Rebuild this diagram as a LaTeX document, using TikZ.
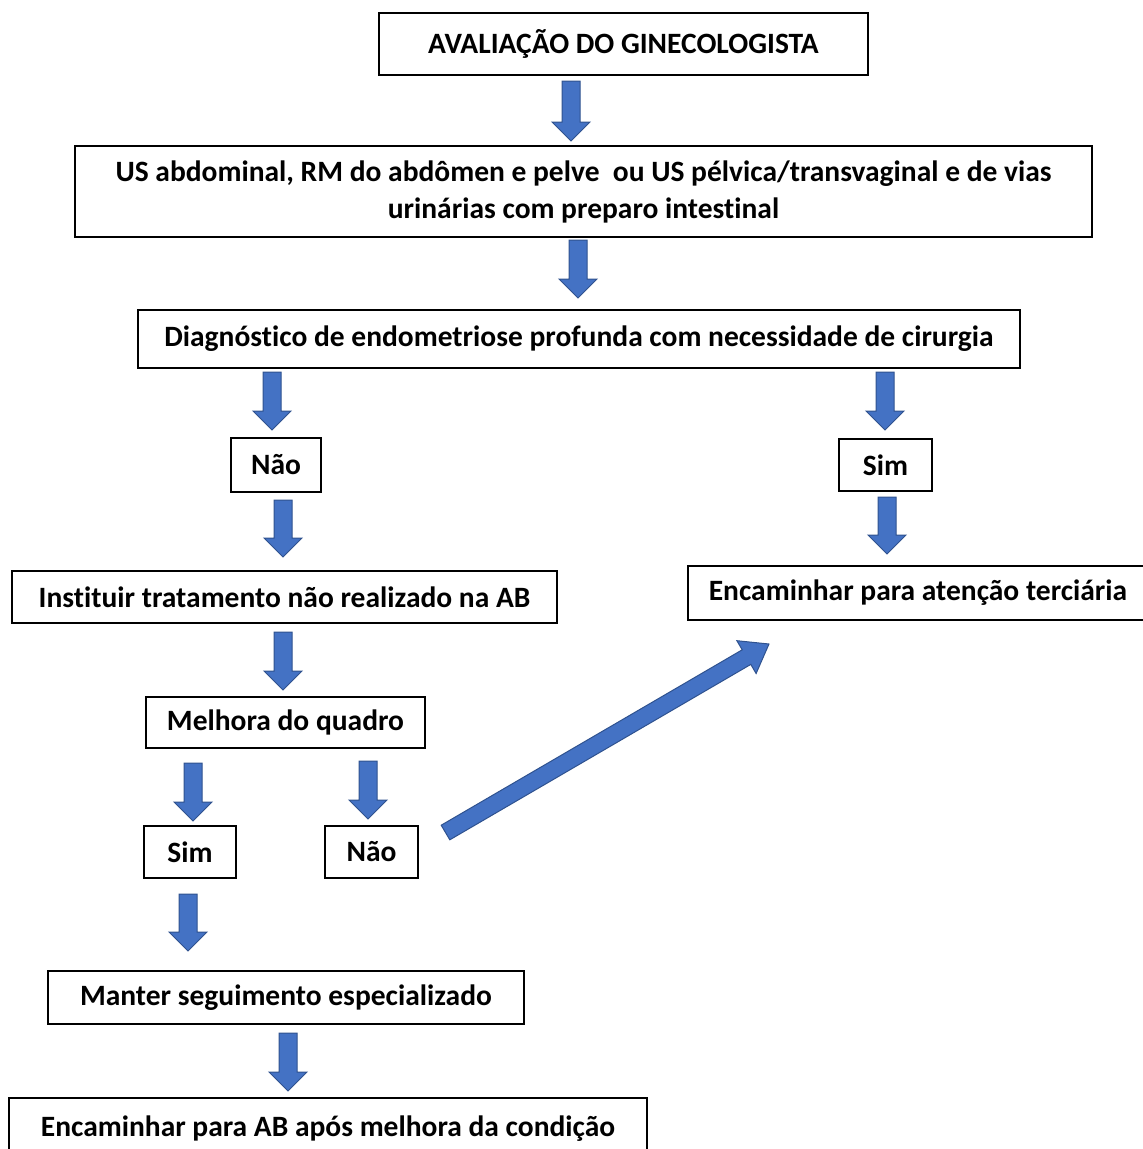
\documentclass[tikz,border=0pt]{standalone}
\usepackage{fontspec}
\setmainfont[Ligatures={NoCommon}]{Carlito}
\definecolor{arrfill}{HTML}{4472C4}
\definecolor{arredge}{HTML}{2F528F}
\newcommand\blkdown[2]{\draw[arr] (#1) ++(-9,0) -- ++(0,#2) -- ++(-10,0) -- ++(19,19) -- ++(19,-19) -- ++(-10,0) -- ++(0,-#2) -- cycle;}
\begin{document}
\begin{tikzpicture}[x=1pt,y=-1pt,
  box/.style={draw=black, line width=1.5pt, inner sep=0pt, font=\fontsize{29.5}{37}\selectfont\bfseries, align=center},
  arr/.style={fill=arrfill, draw=arredge, line width=1pt, line join=miter}]
\useasboundingbox (0,0) rectangle (1143,1149);
\clip (0,0) rectangle (1143,1149);
\node[box, minimum width=489pt, minimum height=62pt] (b1) at (623.5,44) {AVALIAÇÃO DO GINECOLOGISTA};
\node[box, minimum width=1017pt, minimum height=91pt] (b2) at (583.5,191.5) {US abdominal, RM do abdômen e pelve\ \ ou US pélvica/transvaginal e de vias\\urinárias com preparo intestinal};
\node[box, minimum width=882pt, minimum height=58pt] (b3) at (579,339) {Diagnóstico de endometriose profunda com necessidade de cirurgia};
\node[box, minimum width=90pt, minimum height=54pt] (b4) at (276,465) {Não};
\node[box, minimum width=93pt, minimum height=52pt] (b5) at (885.5,465) {Sim};
\node[box, minimum width=545pt, minimum height=52pt] (b6) at (284.5,597) {Instituir tratamento não realizado na AB};
\node[box, minimum width=460pt, minimum height=54pt] (b7) at (918,593) {Encaminhar para atenção terciária};
\node[box, minimum width=279pt, minimum height=51pt] (b8) at (285.5,722.5) {Melhora do quadro};
\node[box, minimum width=92pt, minimum height=52pt] (b9) at (190,852) {Sim};
\node[box, minimum width=93pt, minimum height=52pt] (b10) at (371.5,852) {Não};
\node[box, minimum width=476pt, minimum height=53pt] (b11) at (286,997.5) {Manter seguimento especializado};
\node[box, minimum width=638pt, minimum height=62pt] (b12) at (328,1129) {Encaminhar para AB após melhora da condição};
% arrow anchors
\coordinate (a1) at (571,81);
\coordinate (a2) at (578,240);
\coordinate (a3) at (272,372);
\coordinate (a4) at (885,372);
\coordinate (a5) at (283,500);
\coordinate (a6) at (887,497);
\coordinate (a7) at (283,632);
\coordinate (a8) at (193,763);
\coordinate (a9) at (368,761);
\coordinate (a10) at (188,894);
\coordinate (a11) at (288,1033);
\blkdown{a1}{41}
\blkdown{a2}{39}
\blkdown{a3}{39}
\blkdown{a4}{39}
\blkdown{a5}{38}
\blkdown{a6}{38}
\blkdown{a7}{39}
\blkdown{a8}{39}
\blkdown{a9}{39}
\blkdown{a10}{38}
\blkdown{a11}{39}
% diagonal arrow from Nao to terciaria
\draw[arr] (449.8,839.8) -- (750.8,664.4) -- (756.1,673.5) -- (769,644) -- (736.9,640.7) -- (742.2,649.8) -- (441.2,825.2) -- cycle;
\end{tikzpicture}
\end{document}
